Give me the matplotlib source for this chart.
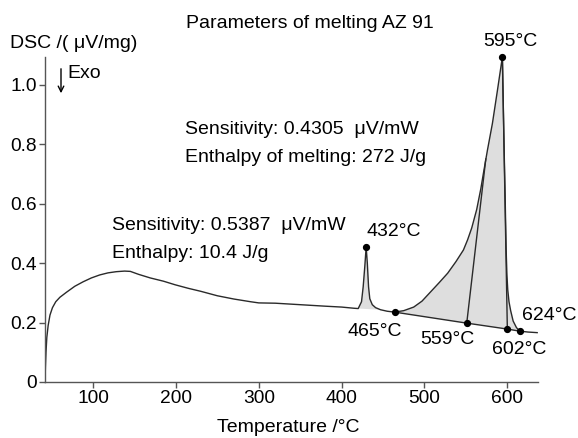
import numpy as np
import matplotlib
matplotlib.use("Agg")
import matplotlib.pyplot as plt

plt.rcParams['font.family'] = ['Liberation Sans', 'DejaVu Sans']

# DSC signal (temperature in °C, signal in µV/mg)
temp = [42, 42.5, 43.2, 44.2, 45.8, 48, 51, 55, 60, 68, 78, 88, 98, 108, 118,
        128, 138, 145, 155, 169, 185, 199, 215, 230, 250, 270, 290, 300, 320,
        350, 380, 400, 415, 420, 424, 426, 428, 429.6, 431, 432.5, 434, 437,
        441, 447, 455, 464, 475, 487, 497, 507, 518, 528, 538, 547, 552, 557,
        563, 568, 571, 576, 582, 588, 594, 596, 597.5, 598.5, 599.5, 600.5,
        602, 604, 607, 611, 615, 625, 636]
dsc = [0.0, 0.05, 0.1, 0.15, 0.19, 0.225, 0.25, 0.27, 0.285, 0.302, 0.322,
       0.337, 0.35, 0.36, 0.367, 0.371, 0.373, 0.372, 0.362, 0.35, 0.339,
       0.327, 0.315, 0.305, 0.29, 0.279, 0.27, 0.266, 0.265, 0.26, 0.255,
       0.252, 0.248, 0.247, 0.27, 0.32, 0.39, 0.454, 0.4, 0.32, 0.28, 0.26,
       0.25, 0.243, 0.238, 0.235, 0.24, 0.252, 0.272, 0.302, 0.335, 0.366,
       0.405, 0.444, 0.478, 0.518, 0.58, 0.65, 0.70, 0.78, 0.87, 0.98, 1.093,
       0.8, 0.6, 0.45, 0.36, 0.31, 0.27, 0.24, 0.205, 0.183, 0.171, 0.168,
       0.166]

# small peak integration limits and melting baseline points
small_peak = (420, 447)
base_t = [464, 551, 600, 615]
base_v = [0.235, 0.198, 0.178, 0.171]

# partial-area split lines (start, end)
split_t = [(551, 574), (594, 600)]
split_v = [(0.198, 0.75), (1.093, 0.178)]

# marked points and their labels
mark_t = [429.6, 594, 464, 551, 600, 615]
mark_v = [0.454, 1.093, 0.235, 0.198, 0.178, 0.171]
mark_lbl = ['432°C', '595°C', '465°C', '559°C', '602°C', '624°C']
lbl_px = [(394, 232), (510, 42), (375, 332), (447, 340), (519, 349), (549, 316)]

xticks = [100, 200, 300, 400, 500, 600]
yticks = [0, 0.2, 0.4, 0.6, 0.8, 1.0]
ytick_lbl = ['0', '0.2', '0.4', '0.6', '0.8', '1.0']

W, H = 578, 438
fig = plt.figure(figsize=(W / 100, H / 100), dpi=100)
ax = fig.add_axes([45 / W, 56 / H, 493 / W, 325 / H])

def fp(x, y):
    return x / W, 1 - y / H

t = np.array(temp)
v = np.array(dsc)
fc = '#dedede'
lc = '#2a2a2a'

# shaded areas
m = (t >= small_peak[0]) & (t <= small_peak[1])
ax.fill(t[m], v[m], color=fc, lw=0)
m = (t >= base_t[0]) & (t <= base_t[-1])
ax.fill(np.r_[t[m], base_t[::-1]], np.r_[v[m], base_v[::-1]], color=fc, lw=0)

ax.plot(t, v, color=lc, lw=1.0)
ax.plot(base_t, base_v, color=lc, lw=1.0)
for st, sv in zip(split_t, split_v):
    ax.plot(st, sv, color=lc, lw=1.0)
ax.plot(mark_t, mark_v, 'o', color='black', ms=4.2, clip_on=False, zorder=5)

ax.set_xlim(42, 637)
ax.set_ylim(0, 1.093)
ax.set_xticks(xticks)
ax.set_yticks(yticks)
ax.set_yticklabels(ytick_lbl)
for s in ['top', 'right']:
    ax.spines[s].set_visible(False)
for s in ['left', 'bottom']:
    ax.spines[s].set_color('#555555')
    ax.spines[s].set_linewidth(1.0)
ax.tick_params(direction='out', length=4, width=1, color='#555555',
               labelsize=13.8, pad=2)

fs = 14
fig.text(*fp(310, 23), 'Parameters of melting AZ 91', ha='center', va='center', fontsize=fs)
fig.text(*fp(10, 43), 'DSC /( μV/mg)', ha='left', va='center', fontsize=fs)
fig.text(*fp(288, 428), 'Temperature /°C', ha='center', va='center', fontsize=fs)

fig.text(*fp(185, 130), 'Sensitivity: 0.4305  μV/mW', ha='left', va='center', fontsize=fs)
fig.text(*fp(185, 157), 'Enthalpy of melting: 272 J/g', ha='left', va='center', fontsize=fs)
fig.text(*fp(112, 225), 'Sensitivity: 0.5387  μV/mW', ha='left', va='center', fontsize=fs)
fig.text(*fp(112, 253), 'Enthalpy: 10.4 J/g', ha='left', va='center', fontsize=fs)

# Exo arrow
ax.annotate('', xy=fp(61, 96), xytext=fp(61, 66), xycoords='figure fraction',
            textcoords='figure fraction',
            arrowprops=dict(arrowstyle='->', color='black', lw=1.0,
                            mutation_scale=10))
fig.text(*fp(67, 73), 'Exo', ha='left', va='center', fontsize=fs)

for lbl, (px, py) in zip(mark_lbl, lbl_px):
    fig.text(*fp(px, py), lbl, ha='center', va='center', fontsize=fs)

fig.savefig('out.png', dpi=100)
